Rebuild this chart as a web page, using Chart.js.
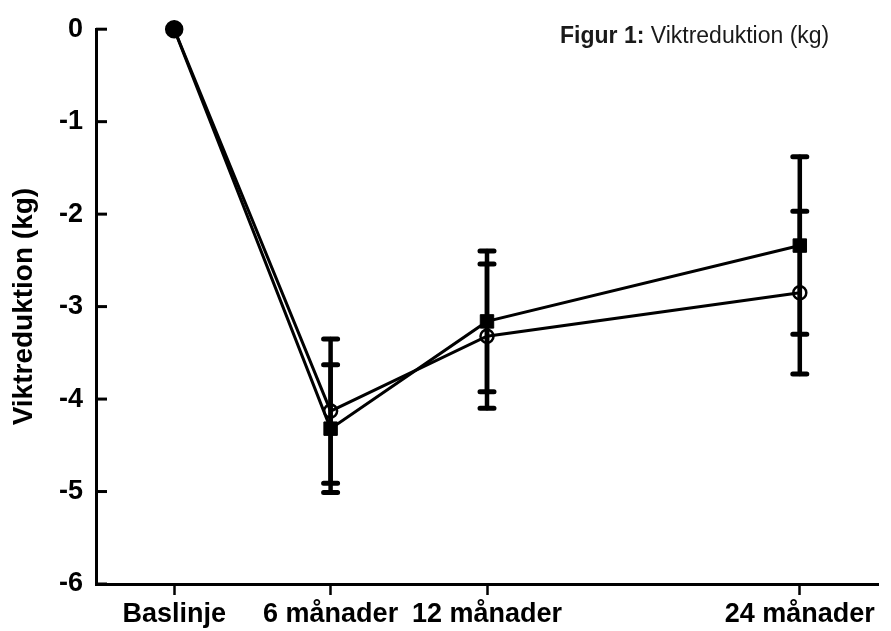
<!DOCTYPE html>
<html>
<head>
<meta charset="utf-8">
<script src="https://cdn.jsdelivr.net/npm/chart.js@4/dist/chart.umd.min.js"></script>
<style>
  html, body { margin: 0; padding: 0; background: #fff; }
  #wrap { width: 891px; height: 631px; position: relative; }
</style>
</head>
<body>
<div id="wrap"><canvas id="chart"></canvas></div>
<script>
// time points (months) and their labels
const months = [0, 6, 12, 24];
const xLabels = ['Baslinje', '6 månader', '12 månader', '24 månader'];

// filled squares
const squareMeans = [0, -4.32, -3.16, -2.34];
const squareErr = [0, 0.69, 0.76, 0.96];

// open circles
const circleMeans = [0, -4.13, -3.32, -2.85];
const circleErr = [0, 0.78, 0.78, 0.88];

const yTicks = [0, -1, -2, -3, -4, -5, -6];

const titleBold = 'Figur 1:';
const titleRest = ' Viktreduktion (kg)';
const yTitle = 'Viktreduktion (kg)';

const toPoints = (vals) => months.map((m, i) => ({ x: m, y: vals[i] }));

// --- error bars, drawn under the markers ---
const errorBars = {
    id: 'errorBars',
    beforeDatasetsDraw(chart) {
        const { ctx, scales: { x, y } } = chart;
        const sets = [[squareMeans, squareErr], [circleMeans, circleErr]];
        ctx.save();
        ctx.strokeStyle = '#000';
        ctx.lineCap = 'round';
        sets.forEach(([means, errs]) => {
            months.forEach((m, i) => {
                if (!errs[i]) return;
                const px = x.getPixelForValue(m);
                const top = y.getPixelForValue(means[i] + errs[i]);
                const bot = y.getPixelForValue(means[i] - errs[i]);
                ctx.lineWidth = 4.5;
                ctx.beginPath();
                ctx.moveTo(px, top); ctx.lineTo(px, bot);
                ctx.stroke();
                ctx.lineWidth = 5;
                ctx.beginPath();
                ctx.moveTo(px - 7, top); ctx.lineTo(px + 7, top);
                ctx.moveTo(px - 7, bot); ctx.lineTo(px + 7, bot);
                ctx.stroke();
            });
        });
        ctx.restore();
    }
};

// --- inward y ticks and the figure caption ---
const extras = {
    id: 'extras',
    afterDraw(chart) {
        const { ctx, scales: { y } } = chart;
        ctx.save();
        ctx.strokeStyle = '#000';
        ctx.lineWidth = 3;
        yTicks.forEach(v => {
            const py = y.getPixelForValue(v);
            ctx.beginPath();
            ctx.moveTo(y.right, py);
            ctx.lineTo(y.right + 11, py);
            ctx.stroke();
        });

        ctx.fillStyle = '#1a1a1a';
        ctx.textBaseline = 'alphabetic';
        ctx.font = 'bold 23px "Liberation Sans", Arial, sans-serif';
        ctx.fillText(titleBold, 560, 43);
        const w = ctx.measureText(titleBold).width;
        ctx.font = '23px "Liberation Sans", Arial, sans-serif';
        ctx.fillText(titleRest, 560 + w, 43);
        ctx.restore();
    }
};

new Chart(document.getElementById('chart'), {
    type: 'line',
    data: {
        datasets: [
            {
                label: 'Fyrkant',
                data: toPoints(squareMeans),
                borderColor: '#000',
                borderWidth: 3,
                backgroundColor: '#000',
                pointStyle: ['circle', 'rect', 'rect', 'rect'],
                pointRadius: [8, 9.5, 9.5, 9.5],
                pointBorderWidth: 1,
                pointBackgroundColor: '#000',
                pointBorderColor: '#000',
                clip: false
            },
            {
                label: 'Cirkel',
                data: toPoints(circleMeans),
                borderColor: '#000',
                borderWidth: 3,
                backgroundColor: '#000',
                pointStyle: 'circle',
                pointRadius: [8, 6.5, 6.5, 6.5],
                pointBorderWidth: 2.5,
                pointBackgroundColor: ['#000', 'rgba(0,0,0,0)', 'rgba(0,0,0,0)', 'rgba(0,0,0,0)'],
                pointBorderColor: '#000',
                clip: false
            }
        ]
    },
    options: {
        responsive: true,
        maintainAspectRatio: false,
        animation: false,
        layout: { padding: { top: 28, right: 13, left: 0, bottom: 0 } },
        plugins: {
            legend: { display: false },
            tooltip: { enabled: false },
            title: { display: false }
        },
        scales: {
            x: {
                type: 'linear',
                min: -3,
                max: 27,
                afterBuildTicks: (scale) => { scale.ticks = months.map(v => ({ value: v })); },
                afterFit: (scale) => { scale.height = 47; },
                grid: {
                    drawOnChartArea: false,
                    drawTicks: true,
                    tickLength: 11,
                    tickWidth: 2.5,
                    tickColor: '#000'
                },
                border: { display: true, color: '#000', width: 3 },
                ticks: {
                    autoSkip: false,
                    maxRotation: 0,
                    padding: 3,
                    color: '#000',
                    font: { family: '"Liberation Sans", Arial, sans-serif', size: 27, weight: 'bold' },
                    callback: (v) => xLabels[months.indexOf(v)]
                }
            },
            y: {
                min: -6,
                max: 0,
                afterFit: (scale) => { scale.width = 96; },
                grid: { drawOnChartArea: false, drawTicks: false },
                border: { display: true, color: '#000', width: 3 },
                ticks: {
                    stepSize: 1,
                    padding: 13,
                    color: '#000',
                    font: { family: '"Liberation Sans", Arial, sans-serif', size: 27, weight: 'bold' }
                },
                title: {
                    display: true,
                    text: yTitle,
                    color: '#000',
                    padding: { top: 7, bottom: 0 },
                    font: { family: '"Liberation Sans", Arial, sans-serif', size: 28, weight: 'bold' }
                }
            }
        }
    },
    plugins: [errorBars, extras]
});
</script>
</body>
</html>
